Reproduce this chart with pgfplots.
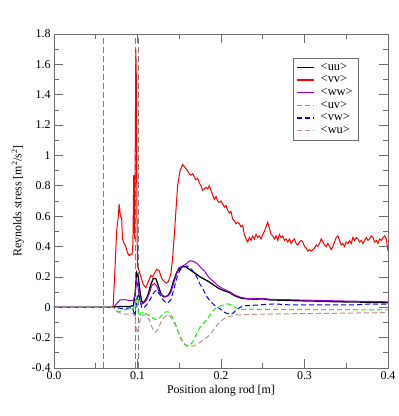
\documentclass[border=0pt]{standalone}
\usepackage{fontspec}
\setmainfont{Liberation Serif}
\usepackage{pgfplots}
\pgfplotsset{compat=1.18}

\definecolor{gviolet}{RGB}{148,0,211}
\definecolor{ggreen}{RGB}{0,255,0}
\definecolor{gbrown}{RGB}{188,143,143}
\definecolor{gframe}{RGB}{110,110,110}

\begin{document}
\begin{tikzpicture}
\useasboundingbox (-54bp,-48bp) rectangle (345bp,368bp);
\begin{axis}[
    scale only axis, width=334bp, height=334bp,
    xmin=0, xmax=0.4, ymin=-0.4, ymax=1.8,
    xtick={0,0.1,0.2,0.3,0.4},
    minor xtick={0.05,0.15,0.25,0.35},
    ytick={-0.4,-0.2,0,0.2,0.4,0.6,0.8,1,1.2,1.4,1.6,1.8},
    minor ytick={-0.3,-0.1,0.1,0.3,0.5,0.7,0.9,1.1,1.3,1.5,1.7},
    tick align=inside, major tick length=9bp, minor tick length=5bp,
    axis line style={gframe, line width=0.8bp},
    every tick/.style={gframe, line width=0.8bp},
    /pgf/number format/assume math mode=true,
    ticklabel style={font=\fontsize{12}{14}\selectfont},
    xticklabel style={/pgf/number format/.cd, fixed, fixed zerofill, precision=1},
    yticklabel style={/pgf/number format/.cd, fixed, precision=1},
    xlabel={Position along rod [m]},
    ylabel={Reynolds stress [m\textsuperscript{2}/s\textsuperscript{2}]},
    label style={font=\fontsize{12}{14}\selectfont},
    xlabel style={at={(axis description cs:0.5,-0.069)}, anchor=center},
    ylabel style={at={(axis description cs:-0.108,0.5)}, anchor=center},
    legend style={at={(axis description cs:0.716,0.928)}, anchor=north west,
        draw=gframe, font=\fontsize{12.5}{14}\selectfont,
        row sep=0pt, column sep=4bp, inner xsep=3pt, inner ysep=3pt},
    legend cell align=left,
    legend image code/.code={\draw[#1, line width=1.4bp] (0cm,0cm) -- (0.6cm,0cm);},
]
% interface positions
\addplot[forget plot, gray, line width=0.8bp, dash pattern=on 6bp off 3bp] coordinates {(0.0587,-0.4) (0.0587,1.8)};
\addplot[forget plot, gray, line width=0.8bp, dash pattern=on 6bp off 3bp] coordinates {(0.0975,-0.4) (0.0975,1.8)};
\addplot[forget plot, gray, line width=0.8bp, dash pattern=on 6bp off 3bp] coordinates {(0.1015,-0.4) (0.1015,1.8)};

% <uu>
\addplot[color=black, line width=1.3bp] coordinates {
(0,0) (0.07,0) (0.073,0.003) (0.08,0.005) (0.09,0.005) (0.095,0.01) (0.097,0.08)
(0.099,0.226) (0.101,0.20) (0.103,0.10) (0.105,0.04) (0.107,0.03) (0.110,0.05)
(0.113,0.09) (0.116,0.15) (0.119,0.19) (0.122,0.19) (0.125,0.14) (0.128,0.09)
(0.131,0.07) (0.134,0.07) (0.137,0.08) (0.140,0.11) (0.143,0.17) (0.147,0.23)
(0.151,0.257) (0.155,0.27) (0.158,0.265) (0.162,0.25) (0.166,0.235) (0.170,0.22)
(0.175,0.20) (0.180,0.185) (0.185,0.17) (0.191,0.147) (0.197,0.125) (0.203,0.11)
(0.207,0.103) (0.211,0.095) (0.215,0.08) (0.219,0.07) (0.224,0.06) (0.230,0.056)
(0.240,0.053) (0.250,0.055) (0.260,0.048) (0.270,0.047) (0.280,0.045) (0.300,0.042)
(0.320,0.040) (0.340,0.036) (0.360,0.035) (0.380,0.032) (0.400,0.030)
};
\addlegendentry{<uu>}

% <vv>
\addplot[color=red, line width=1bp] coordinates {
(0,0) (0.07,0) (0.071,0.02) (0.073,0.25) (0.075,0.5) (0.077,0.6) (0.078,0.68)
(0.0795,0.6) (0.081,0.59) (0.082,0.45) (0.084,0.42) (0.086,0.40) (0.088,0.36)
(0.090,0.34) (0.092,0.35) (0.0935,0.35) (0.0945,0.42) (0.0955,0.87) (0.0965,0.45)
(0.0975,1.2) (0.098,1.70) (0.0985,1.55) (0.099,0.9) (0.0995,0.5) (0.100,0.27)
(0.102,0.24) (0.104,0.20) (0.107,0.15) (0.110,0.13) (0.113,0.17) (0.116,0.21)
(0.118,0.20) (0.120,0.22) (0.123,0.25) (0.126,0.24) (0.129,0.19) (0.132,0.17)
(0.135,0.16) (0.137,0.17) (0.140,0.22) (0.142,0.32) (0.145,0.55) (0.148,0.80)
(0.151,0.90) (0.154,0.94) (0.157,0.92) (0.160,0.90) (0.162,0.88) (0.164,0.87)
(0.166,0.88) (0.168,0.86) (0.170,0.84) (0.172,0.85) (0.174,0.82) (0.176,0.80)
(0.178,0.77) (0.180,0.78) (0.182,0.79) (0.184,0.78) (0.186,0.80) (0.188,0.77)
(0.190,0.74) (0.192,0.71) (0.194,0.73) (0.196,0.70) (0.198,0.69) (0.200,0.70)
(0.202,0.68) (0.204,0.66) (0.206,0.67) (0.208,0.64) (0.210,0.62) (0.212,0.63)
(0.214,0.58) (0.216,0.57) (0.218,0.55) (0.220,0.56) (0.222,0.55) (0.224,0.53)
(0.226,0.54) (0.228,0.48) (0.230,0.45) (0.232,0.43) (0.234,0.46) (0.236,0.44)
(0.238,0.47) (0.240,0.45) (0.242,0.48) (0.244,0.46) (0.246,0.47) (0.248,0.45)
(0.250,0.48) (0.252,0.50) (0.254,0.53) (0.256,0.56) (0.258,0.52) (0.260,0.48)
(0.262,0.47) (0.264,0.45) (0.266,0.47) (0.268,0.44) (0.270,0.48) (0.272,0.46)
(0.274,0.47) (0.276,0.44) (0.278,0.45) (0.280,0.43) (0.282,0.45) (0.284,0.42)
(0.286,0.44) (0.288,0.45) (0.290,0.42) (0.292,0.41) (0.294,0.43) (0.296,0.44)
(0.298,0.43) (0.300,0.40) (0.302,0.39) (0.304,0.37) (0.306,0.38) (0.308,0.37)
(0.310,0.38) (0.312,0.39) (0.314,0.41) (0.316,0.40) (0.318,0.42) (0.320,0.45)
(0.322,0.43) (0.324,0.41) (0.326,0.40) (0.328,0.42) (0.330,0.40) (0.332,0.38)
(0.334,0.40) (0.336,0.43) (0.338,0.46) (0.340,0.47) (0.342,0.44) (0.344,0.41)
(0.346,0.42) (0.348,0.40) (0.350,0.43) (0.352,0.42) (0.354,0.44) (0.356,0.42)
(0.358,0.46) (0.360,0.44) (0.362,0.46) (0.364,0.45) (0.366,0.43) (0.368,0.44)
(0.370,0.42) (0.372,0.44) (0.374,0.46) (0.376,0.44) (0.378,0.45) (0.380,0.47)
(0.382,0.46) (0.384,0.43) (0.386,0.44) (0.388,0.42) (0.390,0.45) (0.392,0.44)
(0.394,0.46) (0.396,0.47) (0.398,0.45) (0.400,0.37)
};
\addlegendentry{<vv>}

% <ww>
\addplot[color=gviolet, line width=1bp] coordinates {
(0,0) (0.07,0) (0.073,0.01) (0.076,0.03) (0.079,0.048) (0.085,0.05) (0.090,0.045)
(0.095,0.045) (0.097,0.08) (0.099,0.18) (0.101,0.12) (0.103,0.04) (0.105,0.02)
(0.108,0.03) (0.111,0.048) (0.114,0.09) (0.117,0.14) (0.120,0.158) (0.123,0.14)
(0.126,0.10) (0.129,0.08) (0.133,0.07) (0.137,0.075) (0.140,0.10) (0.144,0.17)
(0.149,0.257) (0.153,0.27) (0.157,0.28) (0.161,0.30) (0.164,0.307) (0.168,0.30)
(0.172,0.285) (0.176,0.26) (0.180,0.24) (0.185,0.20) (0.191,0.169) (0.197,0.14)
(0.203,0.12) (0.207,0.11) (0.211,0.10) (0.215,0.085) (0.219,0.075) (0.224,0.065)
(0.230,0.058) (0.240,0.056) (0.250,0.057) (0.260,0.052) (0.280,0.050) (0.300,0.047)
(0.320,0.045) (0.340,0.042) (0.360,0.040) (0.380,0.038) (0.400,0.036)
};
\addlegendentry{<ww>}

% <uv>
\addplot[color=ggreen, line width=1bp, dash pattern=on 5bp off 3bp] coordinates {
(0,0) (0.07,0) (0.073,-0.005) (0.075,-0.02) (0.077,-0.03) (0.080,-0.025)
(0.085,-0.015) (0.090,-0.012) (0.095,-0.01) (0.097,0.02) (0.099,0.06)
(0.1005,-0.02) (0.102,-0.06) (0.104,-0.04) (0.107,-0.03) (0.110,-0.04)
(0.114,-0.055) (0.118,-0.07) (0.122,-0.08) (0.125,-0.08) (0.128,-0.06)
(0.131,-0.04) (0.134,-0.03) (0.137,-0.03) (0.140,-0.05) (0.144,-0.09)
(0.147,-0.13) (0.151,-0.20) (0.155,-0.24) (0.159,-0.255) (0.163,-0.25)
(0.167,-0.22) (0.171,-0.17) (0.175,-0.13) (0.179,-0.105) (0.183,-0.08)
(0.187,-0.05) (0.191,-0.02) (0.195,0.0) (0.200,0.01) (0.205,0.02) (0.209,0.022)
(0.213,0.015) (0.217,0.0) (0.222,-0.012) (0.230,-0.015) (0.240,-0.012)
(0.250,-0.015) (0.260,-0.013) (0.280,-0.015) (0.300,-0.014) (0.320,-0.016)
(0.340,-0.015) (0.360,-0.016) (0.380,-0.018) (0.400,-0.017)
};
\addlegendentry{<uv>}

% <vw>
\addplot[color=blue, line width=1bp, dash pattern=on 5bp off 3bp] coordinates {
(0,0) (0.07,0) (0.073,0.0) (0.077,-0.005) (0.081,-0.008) (0.088,-0.005)
(0.094,-0.003) (0.097,-0.06) (0.099,0.04) (0.101,0.09) (0.103,0.05) (0.105,0.0)
(0.107,-0.007) (0.110,0.01) (0.114,0.04) (0.117,0.07) (0.120,0.10) (0.123,0.114)
(0.126,0.09) (0.129,0.06) (0.132,0.04) (0.136,0.026) (0.140,0.05) (0.144,0.13)
(0.148,0.21) (0.151,0.245) (0.155,0.265) (0.159,0.272) (0.163,0.26) (0.167,0.235)
(0.171,0.20) (0.175,0.15) (0.179,0.114) (0.183,0.07) (0.187,0.04) (0.191,0.02)
(0.195,0.0) (0.199,-0.01) (0.203,-0.03) (0.207,-0.04) (0.211,-0.045) (0.214,-0.04)
(0.218,-0.02) (0.223,0.0) (0.228,0.01) (0.235,0.012) (0.245,0.015) (0.255,0.02)
(0.265,0.022) (0.275,0.018) (0.285,0.015) (0.300,0.016) (0.320,0.015) (0.340,0.016)
(0.360,0.015) (0.370,0.02) (0.380,0.022) (0.390,0.02) (0.400,0.02)
};
\addlegendentry{<vw>}

% <wu>
\addplot[color=gbrown, line width=1bp, dash pattern=on 5bp off 3bp] coordinates {
(0,0) (0.07,0) (0.073,-0.01) (0.076,-0.03) (0.080,-0.04) (0.085,-0.045)
(0.090,-0.045) (0.095,-0.04) (0.097,-0.07) (0.099,-0.15) (0.100,-0.17)
(0.102,-0.12) (0.104,-0.06) (0.107,-0.05) (0.110,-0.05) (0.114,-0.08)
(0.118,-0.14) (0.121,-0.165) (0.124,-0.15) (0.128,-0.10) (0.132,-0.065)
(0.136,-0.05) (0.139,-0.06) (0.143,-0.09) (0.147,-0.14) (0.151,-0.19)
(0.155,-0.235) (0.159,-0.25) (0.163,-0.258) (0.167,-0.255) (0.171,-0.245)
(0.175,-0.23) (0.179,-0.215) (0.185,-0.19) (0.191,-0.15) (0.195,-0.12)
(0.200,-0.09) (0.205,-0.07) (0.210,-0.06) (0.215,-0.055) (0.220,-0.05)
(0.230,-0.048) (0.250,-0.045) (0.280,-0.043) (0.300,-0.042) (0.330,-0.04)
(0.360,-0.038) (0.400,-0.035)
};
\addlegendentry{<wu>}
\end{axis}
\end{tikzpicture}
\end{document}
